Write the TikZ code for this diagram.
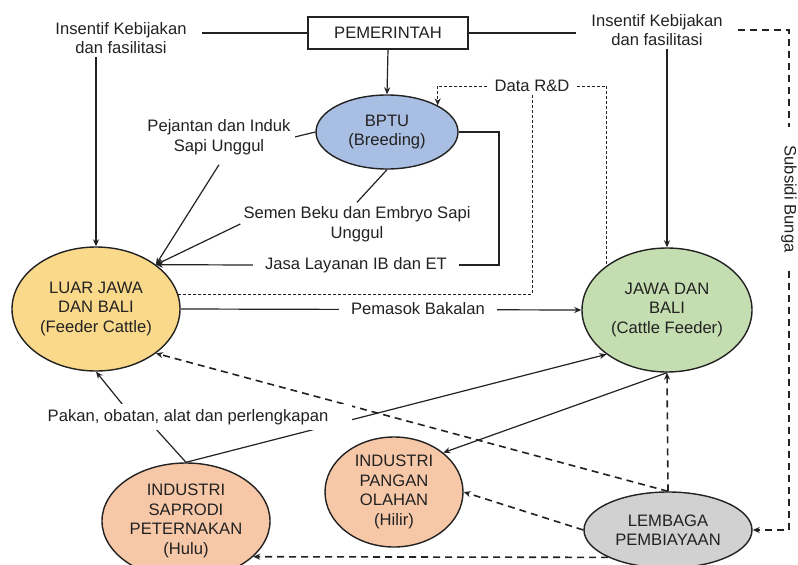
\documentclass[tikz,border=0pt]{standalone}
\usepackage{fontspec}
\setmainfont{Liberation Sans}
\usetikzlibrary{shapes.geometric,arrows.meta,backgrounds,calc}
\definecolor{lineC}{RGB}{34,34,34}
\definecolor{cLuar}{RGB}{250,217,138}
\definecolor{cJawa}{RGB}{196,222,177}
\definecolor{cBptu}{RGB}{168,190,226}
\definecolor{cInd}{RGB}{247,200,168}
\definecolor{cLemb}{RGB}{209,209,209}
\begin{document}
\begin{tikzpicture}[x=1pt,y=-1pt,
  font=\fontsize{16.6}{19.5}\selectfont,
  text=lineC,
  ell/.style={ellipse,draw=lineC,line width=1.4pt,inner sep=0pt,align=center},
  lbl/.style={fill=white,inner sep=3pt,align=center},
  con/.style={draw=lineC,line width=1.2pt},
  tip/.style={-{Stealth[length=7pt,width=6pt]}},
  arr/.style={con,tip},
  dsh/.style={draw=lineC,line width=1.6pt,dash pattern=on 7pt off 5pt},
  dshfine/.style={draw=lineC,line width=1pt,dash pattern=on 3pt off 2pt},
]
\useasboundingbox (0,0) rectangle (798,565);

% nodes
\node[draw=lineC,line width=1.2pt,fill=white,minimum width=160pt,minimum height=32pt,inner sep=0pt] (gov) at (388,33) {PEMERINTAH};
\node[lbl,inner xsep=15pt] (lblL) at (121,38) {Insentif Kebijakan\\dan fasilitasi};
\node[lbl,inner xsep=15pt] (lblR) at (657,30) {Insentif Kebijakan\\dan fasilitasi};
\node[ell,fill=cBptu,minimum width=142pt,minimum height=74pt] (bptu) at (387,132) {BPTU\\(Breeding)};
\node[lbl,inner xsep=7pt] (data) at (532,86) {Data R\&D};
\node[lbl,inner xsep=4pt,inner ysep=10pt] (pej) at (219,137) {Pejantan dan Induk\\Sapi Unggul};
\node[lbl,inner xsep=3pt,inner ysep=4pt] (semen) at (357,224) {Semen Beku dan Embryo Sapi\\Unggul};
\node[lbl,inner xsep=12pt] (jasa) at (356,265) {Jasa Layanan IB dan ET};
\node[ell,fill=cLuar,minimum width=168pt,minimum height=124pt] (luar) at (96,309) {LUAR JAWA\\DAN BALI\\(Feeder Cattle)};
\node[ell,fill=cJawa,minimum width=170pt,minimum height=124pt] (jawa) at (667,310) {JAWA DAN\\BALI\\(Cattle Feeder)};
\node[lbl,inner xsep=12pt] (pem) at (418,309) {Pemasok Bakalan};
\node[lbl,inner xsep=24pt,inner ysep=5pt] (pak) at (188,417) {Pakan, obatan, alat dan perlengkapan};
\node[ell,fill=cInd,minimum width=168pt,minimum height=116pt] (sap) at (186,521) {INDUSTRI\\SAPRODI\\PETERNAKAN\\(Hulu)};
\node[ell,fill=cInd,minimum width=138pt,minimum height=110pt] (pang) at (394,492) {INDUSTRI\\PANGAN\\OLAHAN\\(Hilir)};
\node[ell,fill=cLemb,minimum width=168pt,minimum height=76pt] (lemb) at (668,530) {LEMBAGA\\PEMBIAYAAN};
\node[lbl,rotate=-90,inner xsep=18pt] (subs) at (789,199) {Subsidi Bunga};
\coordinate (jc) at (499,200);

% connectors
\begin{pgfonlayer}{background}
\fill[white] (0,0) rectangle (798,565);
\draw[con] (gov.west) -- (gov.west -| lblL.east);
\draw[arr] (luar.north |- lblL.south) -- (luar.north);
\draw[con] (gov.east) -- (gov.east -| lblR.west);
\draw[arr] (jawa.north |- lblR.south) -- (jawa.north);
\draw[dsh] (lblR.east) -| (subs);
\draw[dsh,tip] (subs) |- (lemb.east);
\draw[arr] (gov.south) -- (bptu.north);
\draw[dshfine,tip] (data.west) -| (bptu.north east);
\draw[dshfine] (data.east) -| (jawa.north west);
\draw[dshfine] (data.south) |- (luar.10);
\draw[con] (bptu.west) -- (pej.east);
\draw[arr] (pej.south) -- (luar.north east);
\draw[con] (bptu.south) -- (semen.north);
\draw[arr] (semen.west) -- (luar.north east);
\draw[con] (bptu.east) -| (jc) |- (jasa.east);
\draw[arr] (jasa.west) -- (luar.north east);
\draw[arr] (luar.east) -- (jawa.west);
\draw[arr] ($(pak.north)!0.4!(pak.north west)$) -- (luar.south);
\draw[con] (sap.north) -- ($(pak.south)!0.19!(pak.south west)$);
\draw[arr] (sap.north) -- (jawa.south west);
\draw[arr] (jawa.south) -- (pang.north east);
\draw[dsh,tip] (lemb.north) -- (jawa.south);
\draw[dsh,tip] (lemb.north) -- (luar.south east);
\draw[dsh,tip] (lemb.west) -- (pang.east);
\draw[dsh,tip] (lemb.south west) -- (sap.-28.6);
\end{pgfonlayer}
\end{tikzpicture}
\end{document}
